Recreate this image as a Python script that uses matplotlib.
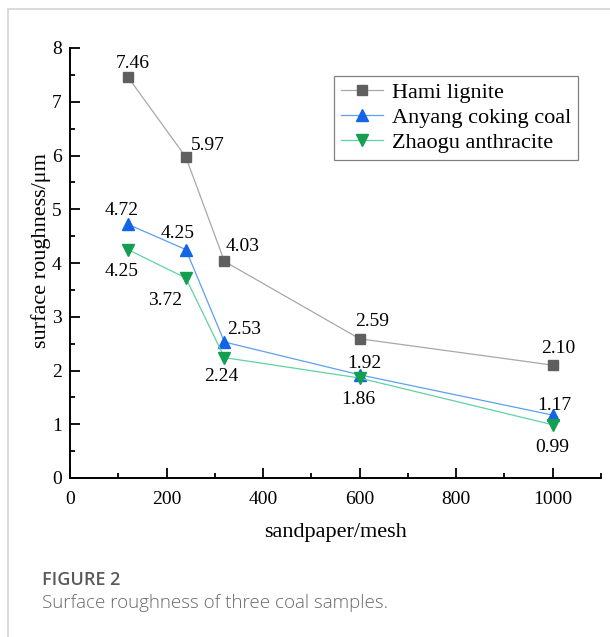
import numpy as np
import matplotlib
matplotlib.use("Agg")
import matplotlib.pyplot as plt
from matplotlib.patches import Rectangle
from matplotlib.ticker import MultipleLocator

plt.rcParams['font.family'] = ['Liberation Serif', 'DejaVu Serif']

# data
mesh = [120, 240, 320, 600, 1000]
hami = [7.46, 5.97, 4.03, 2.59, 2.10]
anyang = [4.72, 4.25, 2.53, 1.92, 1.17]
zhaogu = [4.25, 3.72, 2.24, 1.86, 0.99]
series_names = ["Hami lignite", "Anyang coking coal", "Zhaogu anthracite"]
xticks = [0, 200, 400, 600, 800, 1000]
yticks = [0, 1, 2, 3, 4, 5, 6, 7, 8]

# label offsets in pixels (dx, dy up)
hami_off = [(5, 14), (22, 12), (18, 15), (12, 17), (6, 17)]
anyang_off = [(-6, 14), (-8, 16), (20, 13), (5, 11), (2, 10)]
zhaogu_off = [(-6, -22), (-21, -22), (-3, -19), (-1, -21), (0, -23)]

W, H = 610, 637
fig = plt.figure(figsize=(W / 100, H / 100), dpi=100)

# page frame (left/top edges visible)
fig.patches.append(Rectangle((8 / W, -0.1), 1.2, (1 - 9 / H) + 0.1,
                             transform=fig.transFigure, fill=False,
                             edgecolor='#d4d4d4', linewidth=1.2))

ax = fig.add_axes([70 / W, 1 - 478 / H, 531 / W, 430 / H])

styles = [
    dict(marker='s', ms=7, color='#a8a8a8', mfc='#5f5f5f', mec='#5f5f5f'),
    dict(marker='^', ms=8.5, color='#5ca0f0', mfc='#1464e6', mec='#1464e6'),
    dict(marker='v', ms=8.5, color='#5cd4a0', mfc='#12a050', mec='#12a050'),
]
for ys, name, st, offs in zip([hami, anyang, zhaogu], series_names, styles,
                              [hami_off, anyang_off, zhaogu_off]):
    ax.plot(mesh, ys, lw=0.9, label=name, **st)
    for x, y, (dx, dy) in zip(mesh, ys, offs):
        ax.annotate("%.2f" % y, (x, y), xytext=(dx, dy),
                    textcoords='offset pixels', ha='center', va='center',
                    fontsize=14)

ax.set_xlim(0, 1100)
ax.set_ylim(0, 8)
ax.set_xticks(xticks)
ax.set_xticklabels([str(t) for t in xticks], family='Liberation Serif')
ax.set_yticks(yticks)
ax.set_yticklabels([str(t) for t in yticks], family='Liberation Serif')
ax.xaxis.set_minor_locator(MultipleLocator(100))
ax.yaxis.set_minor_locator(MultipleLocator(0.5))
ax.tick_params(which='both', direction='in', width=1.3, labelsize=14)
ax.tick_params(which='major', length=7, pad=6)
ax.tick_params(axis='x', which='major', pad=9)
ax.tick_params(which='minor', length=3.5)
for s in ['top', 'right']:
    ax.spines[s].set_visible(False)
for s in ['left', 'bottom']:
    ax.spines[s].set_linewidth(1.4)

ax.set_xlabel("sandpaper/mesh", fontsize=16)
ax.xaxis.set_label_coords(0.5, -45 / 430)
ax.set_ylabel("surface roughness/\u03bcm", fontsize=16)
ax.yaxis.set_label_coords(-19 / 531, 0.528)

leg = ax.legend(loc='upper right', bbox_to_anchor=(578 / W, 1 - 76 / H),
                bbox_transform=fig.transFigure, fontsize=16, numpoints=1,
                fancybox=False, edgecolor='#808080', framealpha=1,
                handlelength=1.9, handletextpad=0.4, borderpad=0.3,
                labelspacing=0.2, borderaxespad=0)
leg.get_frame().set_linewidth(0.9)

fig.text(42 / W, 1 - 580 / H, "FIGURE 2", family='Open Sans', weight='semibold',
         fontsize=13, color='#5a5a5a', va='center')
fig.text(42 / W, 1 - 603 / H, "Surface roughness of three coal samples.",
         family='Open Sans', weight='light', fontsize=13.5, color='#6a6a6a',
         va='center')

fig.savefig("out.png", dpi=100)
